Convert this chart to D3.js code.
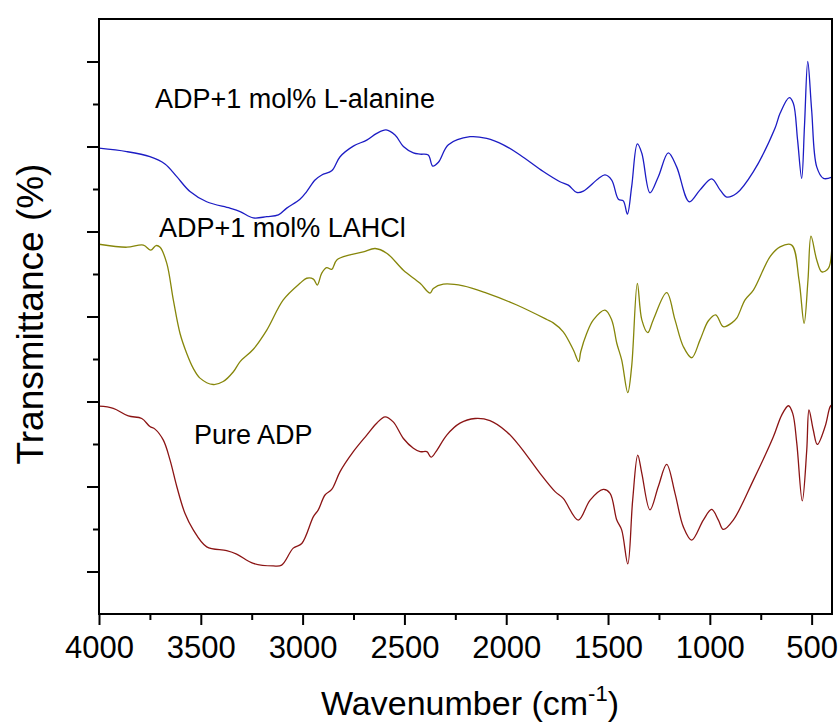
<!DOCTYPE html>
<html>
<head>
<meta charset="utf-8">
<script src="https://cdn.jsdelivr.net/npm/d3@7"></script>
<style>
  html, body { margin: 0; padding: 0; background: #fff; }
  svg { display: block; font-family: "Liberation Sans", Arial, sans-serif; }
</style>
</head>
<body>
<svg id="chart" width="839" height="726"></svg>
<script>
// ---- Data ----
const xTickValues = [4000, 3500, 3000, 2500, 2000, 1500, 1000, 500];
const xMinorTicks = [3750, 3250, 2750, 2250, 1750, 1250, 750];
const yMajorTicks = [10, 30, 50, 70, 90, 110, 130];
const yMinorTicks = [20, 40, 60, 80, 100, 120];

const alanineWN = [4000,3864,3750,3676,3618,3553,3471,3357,3307,3242,3176,3119,3078,3013,2980,2939,2906,2857,2816,2751,2685,2636,2590,2546,2505,2456,2423,2383,2361,2333,2284,2178,2096,2014,1932,1818,1736,1695,1654,1621,1548,1515,1482,1449,1425,1405,1384,1356,1334,1294,1253,1204,1163,1101,1048,991,950,917,868,786,680,655,610,590,569,549,535,519,500,475,442,400];
const alanineT  = [109.6,108.8,107.6,105.9,102.9,99.4,97.0,95.5,94.7,93.2,93.5,93.9,95.5,97.6,99.4,102.1,103.3,104.3,107.6,110.1,111.5,113.1,113.9,112.7,110.0,108.5,108.2,108.0,105.4,106.3,110.4,112.3,111.9,110.4,108.0,104.1,101.7,100.9,99.2,99.5,102.4,103.3,102.1,97.6,97.2,94.1,100.5,110.6,108.4,99.1,102.9,108.5,105.2,97.0,99.8,102.4,99.8,98.1,99.0,104.1,114.3,117.8,121.5,120.2,111.5,102.5,115.0,130.0,118.6,105.2,102.5,102.8];

const lahclWN = [4000,3864,3782,3746,3720,3700,3667,3635,3602,3569,3537,3504,3439,3390,3340,3307,3242,3176,3095,3013,2980,2947,2928,2906,2882,2857,2832,2767,2702,2644,2587,2505,2423,2374,2358,2309,2211,2096,1948,1801,1769,1720,1670,1644,1634,1605,1572,1515,1482,1457,1433,1403,1384,1356,1334,1305,1278,1212,1171,1130,1089,1048,1007,971,934,892,868,827,786,704,655,598,562,537,518,503,475,450,418,400];
const lahclT  = [87.0,86.3,86.8,85.6,86.7,86.3,82.5,73.9,66.0,61.3,57.8,55.5,54.0,54.7,57.0,59.4,62.3,66.8,73.9,77.8,79.0,78.8,77.4,80.2,81.5,81.1,83.3,84.5,85.2,86.0,84.9,80.9,77.8,75.5,76.6,77.6,77.2,75.5,72.7,69.3,68.5,66.4,62.1,59.4,61.7,66.0,69.2,71.5,69.2,63.7,59.8,52.1,58.2,77.8,69.2,66.2,69.2,75.6,69.2,62.9,60.3,64.5,69.0,70.4,67.6,68.5,69.6,73.9,76.2,84.1,86.4,86.8,78.6,68.4,78.6,88.9,83.3,80.5,81.3,87.2];

const pureWN = [4000,3930,3856,3790,3750,3725,3684,3651,3618,3578,3537,3471,3373,3324,3242,3144,3103,3046,3004,2947,2923,2890,2857,2816,2751,2685,2636,2595,2555,2505,2456,2423,2390,2369,2345,2292,2227,2153,2080,1998,1932,1834,1760,1720,1646,1588,1523,1490,1457,1433,1403,1379,1354,1334,1294,1253,1212,1171,1130,1089,1032,991,958,934,885,786,688,647,614,593,573,546,524,513,492,472,434,409,400];
const pureT  = [48.9,48.4,46.6,46.0,44.1,43.5,40.9,36.2,30.0,23.7,19.8,15.8,14.9,14.1,11.9,11.3,11.5,15.5,16.6,22.9,24.5,28.0,29.3,33.5,38.2,42.1,44.9,46.4,45.2,41.3,39.0,38.2,38.2,36.9,38.2,42.1,44.9,46.0,45.5,42.9,39.4,33.1,28.8,27.2,22.1,26.8,29.3,28.4,22.1,19.8,11.8,26.8,37.4,33.1,24.5,30.0,35.2,28.4,20.5,17.4,22.1,24.6,22.1,19.9,22.1,31.5,41.7,46.8,49.0,47.2,40.2,26.6,38.6,48.0,43.3,39.9,44.1,48.8,49.2];

const seriesNames = ["ADP+1 mol% L-alanine", "ADP+1 mol% LAHCl", "Pure ADP"];
const seriesColors = ["#1c1cc4", "#86860a", "#8b1414"];

// ---- Layout ----
const svg = d3.select("#chart");
const L = 99, R = 832, T = 19, B = 614;
const x = d3.scaleLinear().domain([4000, 400]).range([L, R]);
const y = d3.scaleLinear().domain([0, 140]).range([B, T]);

// curves
const line = d3.line()
  .x(d => x(d[0])).y(d => y(d[1]))
  .curve(d3.curveCatmullRom.alpha(0.5));

const series = [
  d3.zip(alanineWN, alanineT),
  d3.zip(lahclWN, lahclT),
  d3.zip(pureWN, pureT)
];
svg.append("clipPath").attr("id", "clip")
  .append("rect").attr("x", L).attr("y", T).attr("width", R - L).attr("height", B - T);
svg.append("g").attr("clip-path", "url(#clip)")
  .selectAll("path").data(series).join("path")
  .attr("d", line)
  .attr("fill", "none")
  .attr("stroke", (d, i) => seriesColors[i])
  .attr("stroke-width", 1.3)
  .attr("stroke-linejoin", "round");

// frame
svg.append("rect").attr("x", L).attr("y", T).attr("width", R - L).attr("height", B - T)
  .attr("fill", "none").attr("stroke", "#000").attr("stroke-width", 2);

// x axis (major)
const xAxis = d3.axisBottom(x).tickValues(xTickValues).tickSize(11).tickPadding(12).tickFormat(d3.format("d"));
const gx = svg.append("g").attr("transform", `translate(0,${B})`).call(xAxis);
gx.select(".domain").remove();
gx.selectAll(".tick line").attr("stroke", "#000").attr("stroke-width", 2);
gx.selectAll(".tick text").attr("font-size", 31).attr("fill", "#000")
  .attr("dy", null).attr("y", 44);
// x minor
const gxm = svg.append("g").attr("transform", `translate(0,${B})`)
  .call(d3.axisBottom(x).tickValues(xMinorTicks).tickSize(6).tickFormat(""));
gxm.select(".domain").remove();
gxm.selectAll(".tick line").attr("stroke", "#000").attr("stroke-width", 2);

// y axis major/minor (no labels)
const gy = svg.append("g").attr("transform", `translate(${L},0)`)
  .call(d3.axisLeft(y).tickValues(yMajorTicks).tickSize(12).tickFormat(""));
gy.select(".domain").remove();
gy.selectAll(".tick line").attr("stroke", "#000").attr("stroke-width", 2);
const gym = svg.append("g").attr("transform", `translate(${L},0)`)
  .call(d3.axisLeft(y).tickValues(yMinorTicks).tickSize(6).tickFormat(""));
gym.select(".domain").remove();
gym.selectAll(".tick line").attr("stroke", "#000").attr("stroke-width", 2);

// axis titles
svg.append("text")
  .attr("transform", "translate(43,314) rotate(-90)")
  .attr("text-anchor", "middle")
  .attr("font-size", 37).attr("fill", "#000")
  .text("Transmittance (%)");

const xt = svg.append("text")
  .attr("x", 470).attr("y", 715)
  .attr("text-anchor", "middle")
  .attr("font-size", 34).attr("fill", "#000");
xt.append("tspan").text("Wavenumber (cm");
xt.append("tspan").attr("font-size", 22).attr("dy", -14).text("-1");
xt.append("tspan").attr("dy", 14).text(")");

// annotations
const annX = [155, 159, 194];
const annY = [108, 237, 444];
svg.selectAll("text.ann").data(seriesNames).join("text")
  .attr("class", "ann")
  .attr("x", (d, i) => annX[i]).attr("y", (d, i) => annY[i])
  .attr("font-size", 27).attr("fill", "#000")
  .text(d => d);
</script>
</body>
</html>
